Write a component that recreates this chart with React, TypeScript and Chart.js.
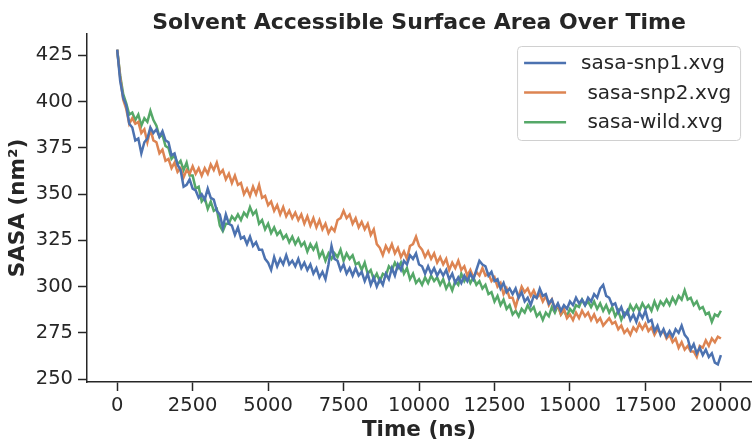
import React, { useEffect, useRef } from "react";
import { Chart, registerables } from "chart.js";

Chart.register(...registerables);

const TITLE = "Solvent Accessible Surface Area Over Time";
const X_LABEL = "Time (ns)";
const Y_LABEL = "SASA (nm²)";
const X_TICKS = [0, 2500, 5000, 7500, 10000, 12500, 15000, 17500, 20000];
const Y_TICKS = [250, 275, 300, 325, 350, 375, 400, 425];
const TIME_STEP_NS = 100;
const SERIES_LABELS = ["sasa-snp1.xvg", " sasa-snp2.xvg", " sasa-wild.xvg"];
const SERIES_COLORS = ["#4C72B0", "#DD8452", "#55A868"];

// SASA samples every 100 ns
const SNP1 = [
  428, 411, 402, 398, 388, 386, 379, 380, 372, 378, 380,
  386, 383, 385, 381, 384, 379, 378, 371, 372, 366,
  363, 354, 355, 358, 353, 352, 348, 350, 347, 353,
  348, 347, 341, 339, 332, 339, 334, 333, 328, 332,
  326, 327, 323, 327, 322, 324, 320, 320, 315, 313,
  309, 316, 311, 315, 312, 317, 312, 314, 311, 315,
  310, 313, 309, 312, 307, 310, 305, 308, 304, 312,
  322, 315, 314, 309, 312, 307, 310, 306, 310, 306,
  308, 303, 307, 301, 305, 300, 304, 301, 307, 304,
  310, 306, 312, 309, 314, 312, 317, 315, 318, 312,
  311, 307, 311, 307, 310, 306, 309, 306, 309, 304,
  307, 302, 305, 302, 306, 303, 307, 304, 309, 314,
  312, 311, 306, 308, 303, 304, 299, 302, 297, 299,
  296, 299, 294, 297, 292, 294, 290, 295, 294, 299,
  295, 296, 291, 293, 288, 291, 287, 290, 288, 292,
  290, 294, 291, 293, 290, 294, 292, 296, 294, 299,
  301, 295, 294, 290, 291, 286, 289, 284, 287, 282,
  285, 281, 286, 283, 287, 281, 282, 276, 279, 274,
  277, 273, 276, 273, 277, 275, 279, 274, 272, 266,
  269, 264, 267, 263, 266, 262, 264, 259, 258, 263,
];

const SNP2 = [
  428, 413, 401, 396, 388, 391, 388, 389, 383, 385, 378,
  385, 379, 378, 372, 374, 368, 369, 364, 367, 362,
  364, 359, 363, 361, 365, 361, 364, 360, 364, 361,
  366, 363, 367, 361, 363, 358, 361, 356, 360, 355,
  356, 350, 353, 349, 354, 350, 355, 348, 349, 344,
  346, 341, 344, 339, 343, 338, 341, 337, 340, 336,
  339, 334, 338, 333, 337, 332, 336, 331, 334, 329,
  332, 330, 336, 337, 341, 337, 339, 334, 337, 332,
  335, 331, 334, 328, 331, 323, 321, 317, 322, 319,
  323, 318, 321, 316, 319, 315, 322, 323, 327, 322,
  320, 316, 319, 315, 318, 313, 316, 312, 315, 309,
  313, 310, 314, 309, 311, 306, 309, 305, 308, 306,
  310, 306, 307, 303, 305, 300, 302, 296, 299, 294,
  294, 289, 295, 300, 297, 299, 295, 298, 294, 296,
  292, 295, 290, 293, 288, 290, 285, 288, 283, 285,
  282, 286, 283, 287, 284, 286, 282, 285, 281, 283,
  279, 281, 283, 280, 281, 277, 279, 275, 277, 274,
  278, 276, 280, 277, 280, 276, 278, 274, 277, 275,
  276, 272, 274, 270, 272, 267, 270, 266, 268, 265,
  265, 262, 268, 267, 271, 268, 272, 270, 273, 272,
];

const WILD = [
  428, 414, 404, 399, 393, 394, 390, 393, 387, 391, 389,
  395, 390, 387, 381, 382, 376, 375, 369, 371, 366,
  368, 363, 367, 360, 360, 353, 354, 346, 348, 342,
  346, 341, 342, 333, 330, 334, 334, 338, 336, 339,
  336, 340, 338, 343, 339, 341, 334, 336, 331, 334,
  329, 332, 328, 330, 326, 328, 324, 327, 323, 326,
  322, 324, 319, 323, 320, 323, 316, 319, 314, 318,
  315, 318, 316, 320, 314, 318, 315, 317, 312, 313,
  309, 313, 307, 309, 304, 307, 303, 307, 306, 311,
  309, 313, 310, 313, 307, 310, 304, 307, 302, 304,
  301, 305, 302, 306, 303, 305, 301, 304, 299, 302,
  298, 303, 301, 307, 303, 306, 302, 305, 301, 303,
  299, 301, 296, 297, 292, 295, 290, 293, 288, 290,
  285, 287, 284, 288, 286, 290, 287, 289, 284, 286,
  282, 286, 284, 289, 286, 290, 285, 287, 284, 288,
  286, 290, 289, 293, 290, 292, 289, 292, 288, 291,
  287, 290, 286, 289, 284, 287, 282, 286, 285, 290,
  287, 290, 287, 291, 288, 290, 287, 292, 288, 292,
  290, 293, 290, 294, 291, 295, 293, 298, 293, 294,
  290, 292, 288, 289, 285, 286, 281, 285, 284, 287,
];

const SERIES = [SNP1, SNP2, WILD];

const FONT = "'DejaVu Sans', 'Liberation Sans', sans-serif";
const INK = "#262626";

const titlePlugin = {
  id: "plotTitle",
  afterDraw(chart: any) {
    const { ctx, chartArea } = chart;
    ctx.save();
    ctx.font = `bold 22px ${FONT}`;
    ctx.fillStyle = INK;
    ctx.textAlign = "center";
    ctx.textBaseline = "alphabetic";
    ctx.fillText(TITLE, (chartArea.left + chartArea.right) / 2, 29);
    ctx.restore();
  },
};

const legendPlugin = {
  id: "boxLegend",
  afterDraw(chart: any) {
    const { ctx, chartArea } = chart;
    const boxW = 223;
    const boxH = 94;
    const x0 = chartArea.right - 11 - boxW;
    const y0 = chartArea.top + 12;
    ctx.save();
    ctx.beginPath();
    ctx.roundRect(x0 + 0.5, y0 + 0.5, boxW, boxH, 4);
    ctx.fillStyle = "rgba(255,255,255,0.8)";
    ctx.fill();
    ctx.strokeStyle = "#d0d0d0";
    ctx.lineWidth = 1;
    ctx.stroke();
    ctx.font = `20px ${FONT}`;
    ctx.textBaseline = "middle";
    ctx.textAlign = "left";
    chart.data.datasets.forEach((ds: any, i: number) => {
      const y = y0 + 17 + i * 29.6;
      ctx.strokeStyle = ds.borderColor;
      ctx.lineWidth = 2.5;
      ctx.beginPath();
      ctx.moveTo(x0 + 7, y);
      ctx.lineTo(x0 + 49, y);
      ctx.stroke();
      ctx.fillStyle = INK;
      ctx.fillText(ds.label, x0 + 64, y + 1);
    });
    ctx.restore();
  },
};

export default function App() {
  const canvasRef = useRef<HTMLCanvasElement | null>(null);

  useEffect(() => {
    if (!canvasRef.current) return;
    const datasets = SERIES.map((values, s) => ({
      label: SERIES_LABELS[s],
      data: values.map((v, i) => ({ x: i * TIME_STEP_NS, y: v })),
      borderColor: SERIES_COLORS[s],
      backgroundColor: SERIES_COLORS[s],
      borderWidth: 2.5,
      pointRadius: 0,
      tension: 0,
      fill: false,
    }));

    const tickFont = { family: FONT, size: 19.5 };
    const labelFont = { family: FONT, size: 21.5, weight: "bold" as const };

    const chart = new Chart(canvasRef.current, {
      type: "line",
      data: { datasets },
      plugins: [titlePlugin, legendPlugin],
      options: {
        animation: false,
        responsive: false,
        maintainAspectRatio: false,
        layout: { padding: { top: 34, right: 2, bottom: 0, left: 0 } },
        plugins: {
          legend: { display: false },
          title: { display: false },
          tooltip: { enabled: false },
        },
        scales: {
          x: {
            type: "linear",
            min: -1000,
            max: 21000,
            afterBuildTicks: (scale: any) => {
              scale.ticks = X_TICKS.map((value) => ({ value }));
            },
            afterFit: (scale: any) => {
              scale.height = 58;
            },
            grid: {
              display: true,
              drawOnChartArea: false,
              drawTicks: true,
              tickLength: 9,
              tickWidth: 1.5,
              tickColor: INK,
            },
            border: { display: true, color: INK, width: 1.5 },
            ticks: {
              font: tickFont,
              color: INK,
              padding: 3,
              maxRotation: 0,
              autoSkip: false,
              callback: (v: any) => String(v),
            },
            title: {
              display: true,
              text: X_LABEL,
              font: labelFont,
              color: INK,
              padding: { top: 0, bottom: -3 },
            },
          },
          y: {
            type: "linear",
            min: 248.5,
            max: 436.5,
            afterBuildTicks: (scale: any) => {
              scale.ticks = Y_TICKS.map((value) => ({ value }));
            },
            afterFit: (scale: any) => {
              scale.width = 87;
            },
            grid: {
              display: true,
              drawOnChartArea: false,
              drawTicks: true,
              tickLength: 9,
              tickWidth: 1.5,
              tickColor: INK,
            },
            border: { display: true, color: INK, width: 1.5 },
            ticks: {
              font: tickFont,
              color: INK,
              padding: 5,
              autoSkip: false,
              callback: (v: any) => String(v),
            },
            title: {
              display: true,
              text: Y_LABEL,
              font: labelFont,
              color: INK,
              padding: { top: 6, bottom: 0 },
            },
          },
        },
      },
    });
    return () => chart.destroy();
  }, []);

  return (
    <div style={{ position: "absolute", left: 0, top: 0, width: 755, height: 440, background: "#fff" }}>
      <canvas ref={canvasRef} width={755} height={440} style={{ display: "block" }} />
    </div>
  );
}
